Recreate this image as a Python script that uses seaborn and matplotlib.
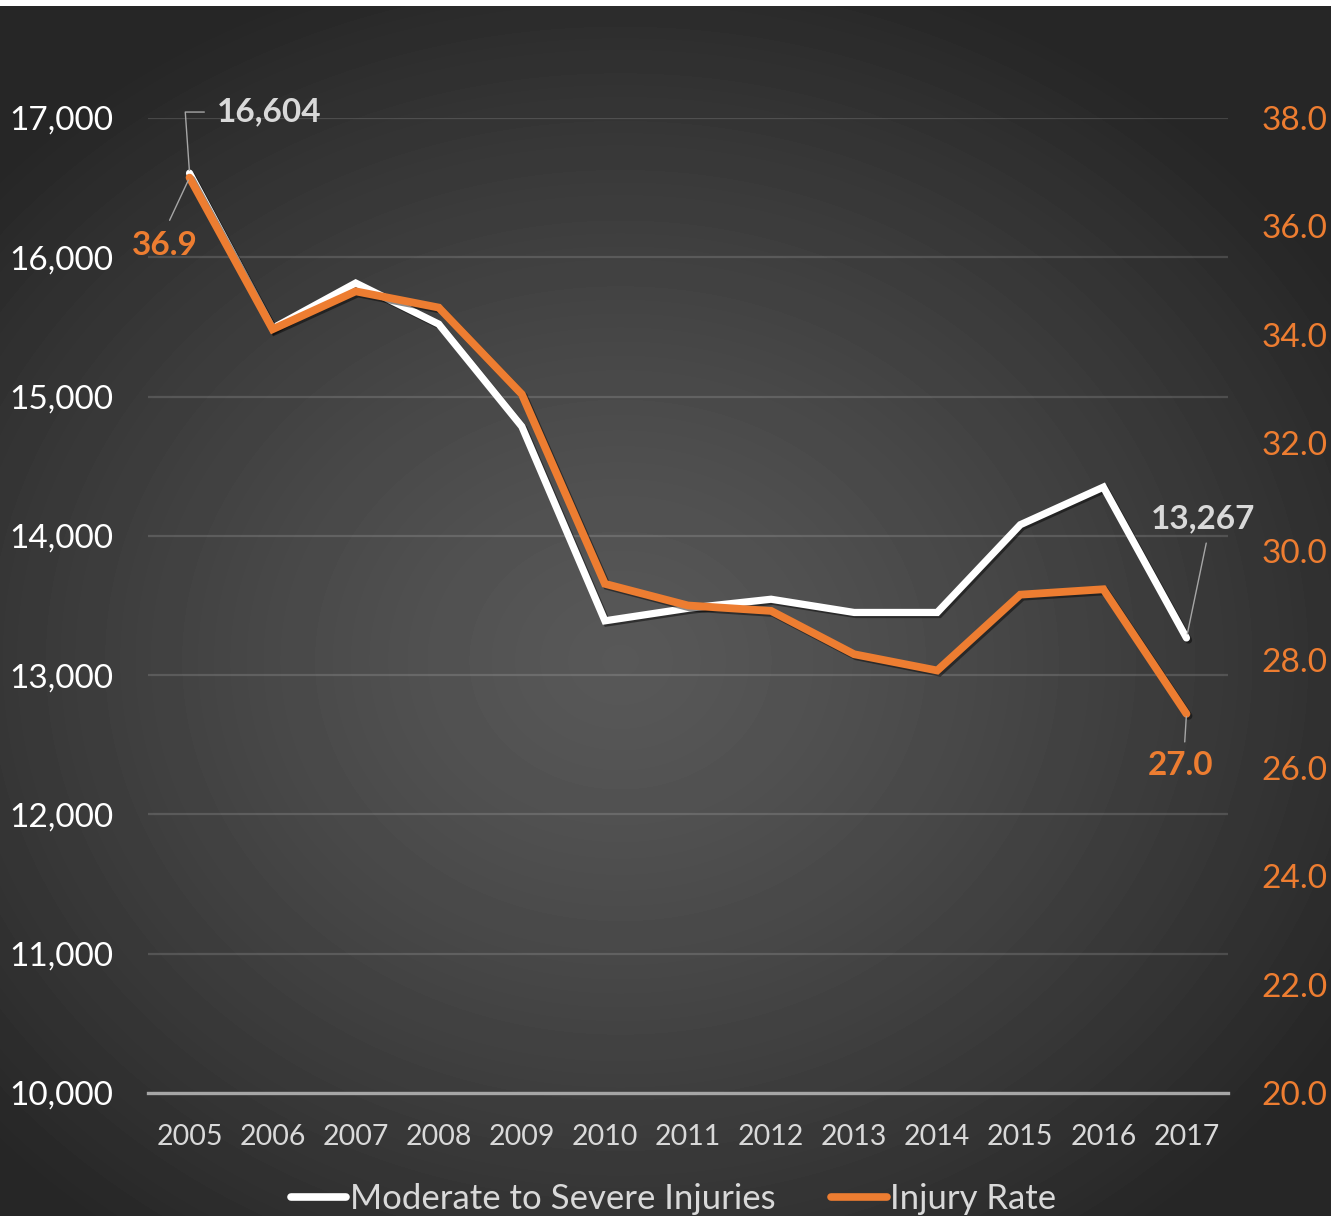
import numpy as np
import pandas as pd
import matplotlib
matplotlib.use("Agg")
import matplotlib.pyplot as plt
import matplotlib.patheffects as pe
from matplotlib.ticker import FuncFormatter, MultipleLocator
import seaborn as sns

# Data
years = ["2005", "2006", "2007", "2008", "2009", "2010", "2011",
         "2012", "2013", "2014", "2015", "2016", "2017"]
injuries = [16604, 15490, 15815, 15520, 14785, 13390, 13480,
            13545, 13450, 13450, 14080, 14350, 13267]
injury_rate = [36.9, 34.1, 34.8, 34.5, 32.9, 29.4, 29.0,
               28.9, 28.1, 27.8, 29.2, 29.3, 27.0]
series_names = ["Moderate to Severe Injuries", "Injury Rate"]

WHITE = "#ffffff"
LABEL_GREY = "#d9d9d9"
ORANGE = "#ED7D31"

sns.set_theme(style="dark")
plt.rcParams["font.family"] = ["Lato", "DejaVu Sans"]

W, H, DPI = 1331, 1216, 100
fig = plt.figure(figsize=(W / DPI, H / DPI), dpi=DPI)

# Radial gradient backdrop
yy, xx = np.mgrid[0:H, 0:W]
r = np.sqrt(((xx - 620) / 820.0) ** 2 + ((yy - 660) / 700.0) ** 2)
shade = np.clip(88 - 48 * np.clip(r, 0, 1.15) ** 1.3, 38, 90)
shade[:6, :] = 255
bg = fig.add_axes([0, 0, 1, 1], zorder=-10)
bg.imshow(shade, cmap="gray", vmin=0, vmax=255, aspect="auto",
          interpolation="bilinear", extent=(0, 1, 0, 1))
bg.set_axis_off()

ax = fig.add_axes([148 / W, 1 - 1093 / H, (1228 - 148) / W, (1093 - 118) / H])
ax.set_facecolor("none")
ax2 = ax.twinx()
ax2.set_facecolor("none")

df = pd.DataFrame({"year": years, "idx": np.arange(len(years)),
                   "injuries": injuries, "rate": injury_rate})

shadow = [pe.SimpleLineShadow(offset=(1.5, -1.5), alpha=0.45, shadow_color="black"),
          pe.Normal()]

sns.lineplot(data=df, x="idx", y="injuries", ax=ax, color=WHITE, lw=5.2,
             solid_joinstyle="miter", solid_capstyle="round",
             label=series_names[0], legend=False, path_effects=shadow, zorder=3)
sns.lineplot(data=df, x="idx", y="rate", ax=ax2, color=ORANGE, lw=5.6,
             solid_joinstyle="miter", solid_capstyle="round",
             label=series_names[1], legend=False, path_effects=shadow, zorder=3)

# Axes limits and ticks
ax.set_xlim(-0.5, len(years) - 0.5)
ax.set_ylim(10000, 17000)
ax2.set_ylim(20, 38)
ax.yaxis.set_major_locator(MultipleLocator(1000))
ax2.yaxis.set_major_locator(MultipleLocator(2))
ax.yaxis.set_major_formatter(FuncFormatter(lambda v, p: f"{int(v):,}"))
ax2.yaxis.set_major_formatter(FuncFormatter(lambda v, p: f"{v:.1f}"))
ax.set_xticks(df["idx"])
ax.set_xticklabels(years)

ax.set_xlabel("")
ax.set_ylabel("")
ax2.set_ylabel("")

ax.tick_params(axis="y", length=0, pad=25, labelsize=24, labelcolor=WHITE)
ax.tick_params(axis="x", length=0, pad=22, labelsize=20.5, labelcolor=LABEL_GREY)
ax2.tick_params(axis="y", length=0, pad=24, labelsize=24, labelcolor=ORANGE)

ax.grid(axis="y", color="white", alpha=0.14, lw=1.6)
ax.grid(axis="x", visible=False)
ax2.grid(False)

for a in (ax, ax2):
    for s in a.spines.values():
        s.set_visible(False)
ax.spines["bottom"].set_visible(True)
ax.spines["bottom"].set_color("#a6a6a6")
ax.spines["bottom"].set_linewidth(2.4)
ax.set_axisbelow(True)

# Data labels on first and last points
lead = dict(arrowstyle="-", color="#a6a6a6", lw=1.0)
ax.annotate(f"{injuries[0]:,}", xy=(0, injuries[0]), xytext=(20, 44),
            textcoords="offset points", ha="left", va="center",
            fontsize=24, fontweight="bold", color=LABEL_GREY,
            arrowprops=dict(lead, relpos=(0, 0.5), shrinkA=7, shrinkB=2,
                            connectionstyle="angle,angleA=0,angleB=94,rad=0"),
            annotation_clip=False)
ax2.annotate(f"{injury_rate[0]:.1f}", xy=(0, injury_rate[0]), xytext=(-18, -49),
             textcoords="offset points", ha="center", va="center",
             fontsize=24, fontweight="bold", color=ORANGE,
             arrowprops=dict(lead, relpos=(0.5, 1.0), shrinkA=6, shrinkB=2),
             annotation_clip=False)
last = len(years) - 1
ax.annotate(f"{injuries[last]:,}", xy=(last, injuries[last]), xytext=(12, 86),
            textcoords="offset points", ha="center", va="center",
            fontsize=24, fontweight="bold", color=LABEL_GREY,
            arrowprops=dict(lead, relpos=(0.55, 0.0), shrinkA=5, shrinkB=3),
            annotation_clip=False)
ax2.annotate(f"{injury_rate[last]:.1f}", xy=(last, injury_rate[last]), xytext=(-4, -37),
             textcoords="offset points", ha="center", va="center",
             fontsize=24, fontweight="bold", color=ORANGE,
             arrowprops=dict(lead, relpos=(0.55, 1.0), shrinkA=4, shrinkB=2),
             annotation_clip=False)

# Legend along the bottom
h1, l1 = ax.get_legend_handles_labels()
h2, l2 = ax2.get_legend_handles_labels()
leg = fig.legend(h1 + h2, l1 + l2, loc="center", bbox_to_anchor=(0.506, 0.014),
                 ncol=2, frameon=False, fontsize=25, handlelength=1.6,
                 handletextpad=0.1, columnspacing=1.6, labelcolor=LABEL_GREY)
for line in leg.get_lines():
    line.set_path_effects([])
    line.set_linewidth(5.5)

fig.savefig("out.png", dpi=DPI)
